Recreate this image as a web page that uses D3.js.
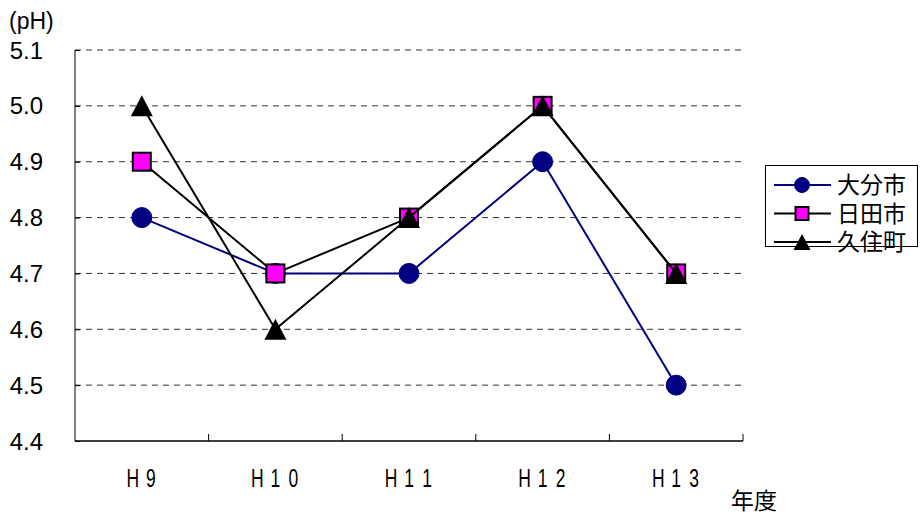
<!DOCTYPE html>
<html>
<head>
<meta charset="utf-8">
<script src="https://cdn.jsdelivr.net/npm/d3@7"></script>
<style>
  body { margin: 0; background: #fff; }
  svg { display: block; }
  text { fill: #000; }
</style>
</head>
<body>
<svg id="chart" width="921" height="518"></svg>
<script>
// Annual mean pH of rainfall by fiscal year
const categories = ["H9", "H10", "H11", "H12", "H13"];
const oita = [4.8, 4.7, 4.7, 4.9, 4.5];   // 大分市
const hita = [4.9, 4.7, 4.8, 5.0, 4.7];   // 日田市
const kuju = [5.0, 4.6, 4.8, 5.0, 4.7];   // 久住町
const yTicks = [4.4, 4.5, 4.6, 4.7, 4.8, 4.9, 5.0, 5.1];
const seriesNames = ["大分市", "日田市", "久住町"];

const svg = d3.select("#chart");
const plotL = 75, plotR = 743, plotT = 50, plotB = 441;

const x = d3.scaleBand().domain(categories).range([plotL, plotR]).padding(0);
const y = d3.scaleLinear().domain([4.4, 5.1]).range([plotB, plotT]);
const cx = c => x(c) + x.bandwidth() / 2;

const labelFont = "'Liberation Sans', Arial, sans-serif";
const cjkFont = "'Noto Sans CJK JP', 'Noto Sans CJK SC', sans-serif";

// dashed horizontal gridlines
svg.append("g").selectAll("line")
  .data(yTicks.filter(v => v > 4.4))
  .join("line")
  .attr("x1", plotL).attr("x2", plotR)
  .attr("y1", d => y(d)).attr("y2", d => y(d))
  .attr("stroke", "#333").attr("stroke-width", 1)
  .attr("stroke-dasharray", "6,5");

// y axis
const yAxis = svg.append("g").attr("transform", `translate(${plotL},0)`)
  .call(d3.axisRight(y).tickValues(yTicks).tickSize(5).tickFormat(""));
yAxis.select(".domain").attr("stroke", "#000").attr("d", `M0,${plotT}V${plotB}`);
yAxis.selectAll(".tick line").attr("stroke", "#000");

svg.append("g").selectAll("text")
  .data(yTicks)
  .join("text")
  .attr("x", 43).attr("y", d => y(d))
  .attr("dy", "0.36em")
  .attr("text-anchor", "end")
  .style("font-family", labelFont)
  .style("font-size", "24px")
  .text(d3.format(".1f"));

svg.append("text")
  .attr("x", 9).attr("y", 29)
  .style("font-family", labelFont)
  .style("font-size", "23px")
  .text("(pH)");

// x axis with ticks between categories
const xBounds = categories.map(c => x(c)).concat([plotR]);
const xAxis = svg.append("g");
xAxis.append("line")
  .attr("x1", plotL).attr("x2", plotR)
  .attr("y1", plotB).attr("y2", plotB)
  .attr("stroke", "#000").attr("stroke-width", 1.3);
xAxis.selectAll("line.tk")
  .data(xBounds.slice(1))
  .join("line").attr("class", "tk")
  .attr("x1", d => d).attr("x2", d => d)
  .attr("y1", plotB).attr("y2", plotB - 7)
  .attr("stroke", "#000");

// category labels: condensed glyphs on a wide, fixed pitch
const squeeze = 0.7;
const xl = svg.append("g").selectAll("g")
  .data(categories)
  .join("g")
  .attr("transform", c => `translate(${cx(c)},487)`);
xl.each(function (c) {
  const chars = c.split("");
  const pitch = 18;
  const start = -(chars.length - 1) * pitch / 2;
  d3.select(this).selectAll("text")
    .data(chars)
    .join("text")
    .attr("transform", `scale(${squeeze},1)`)
    .attr("x", (d, i) => (start + i * pitch) / squeeze)
    .attr("text-anchor", "middle")
    .style("font-family", labelFont)
    .style("font-size", "25px")
    .text(d => d);
});

svg.append("text")
  .attr("x", 754).attr("y", 509)
  .attr("text-anchor", "middle")
  .style("font-family", cjkFont)
  .style("font-size", "23px")
  .text("年度");

// series
const line = d3.line().x((d, i) => cx(categories[i])).y(d => y(d));

function marker(sel, kind, size) {
  if (kind === "circle") {
    sel.append("circle").attr("r", size / 2)
      .attr("fill", "#000080").attr("stroke", "#000080");
  } else if (kind === "square") {
    const s = size - 2;
    sel.append("rect").attr("x", -s / 2).attr("y", -s / 2)
      .attr("width", s).attr("height", s)
      .attr("fill", "#FF00FF").attr("stroke", "#000").attr("stroke-width", 2);
  } else {
    const w = size + 2, h = size + 1;
    sel.append("path")
      .attr("d", `M0,${-h / 2}L${w / 2},${h / 2}L${-w / 2},${h / 2}Z`)
      .attr("fill", "#000");
  }
}

const series = [
  { name: seriesNames[0], values: oita, color: "#000080", kind: "circle" },
  { name: seriesNames[1], values: hita, color: "#000", kind: "square" },
  { name: seriesNames[2], values: kuju, color: "#000", kind: "triangle" }
];

series.forEach(s => {
  svg.append("path")
    .attr("d", line(s.values))
    .attr("fill", "none")
    .attr("stroke", s.color)
    .attr("stroke-width", 2);
  s.values.forEach((v, i) => {
    const g = svg.append("g").attr("transform", `translate(${cx(categories[i])},${y(v)})`);
    marker(g, s.kind, 20);
  });
});

// legend
const lg = svg.append("g");
lg.append("rect")
  .attr("x", 765.5).attr("y", 165.5)
  .attr("width", 152).attr("height", 81)
  .attr("fill", "#fff").attr("stroke", "#000").attr("stroke-width", 1);
series.forEach((s, i) => {
  const yy = 185 + i * 28.5;
  lg.append("line")
    .attr("x1", 774).attr("x2", 831)
    .attr("y1", yy).attr("y2", yy)
    .attr("stroke", s.color).attr("stroke-width", 2);
  const g = lg.append("g").attr("transform", `translate(802,${yy})`);
  marker(g, s.kind, 15);
  lg.append("text")
    .attr("x", 837).attr("y", yy)
    .attr("dy", "0.36em")
    .style("font-family", cjkFont)
    .style("font-size", "23px")
    .text(s.name);
});
</script>
</body>
</html>
